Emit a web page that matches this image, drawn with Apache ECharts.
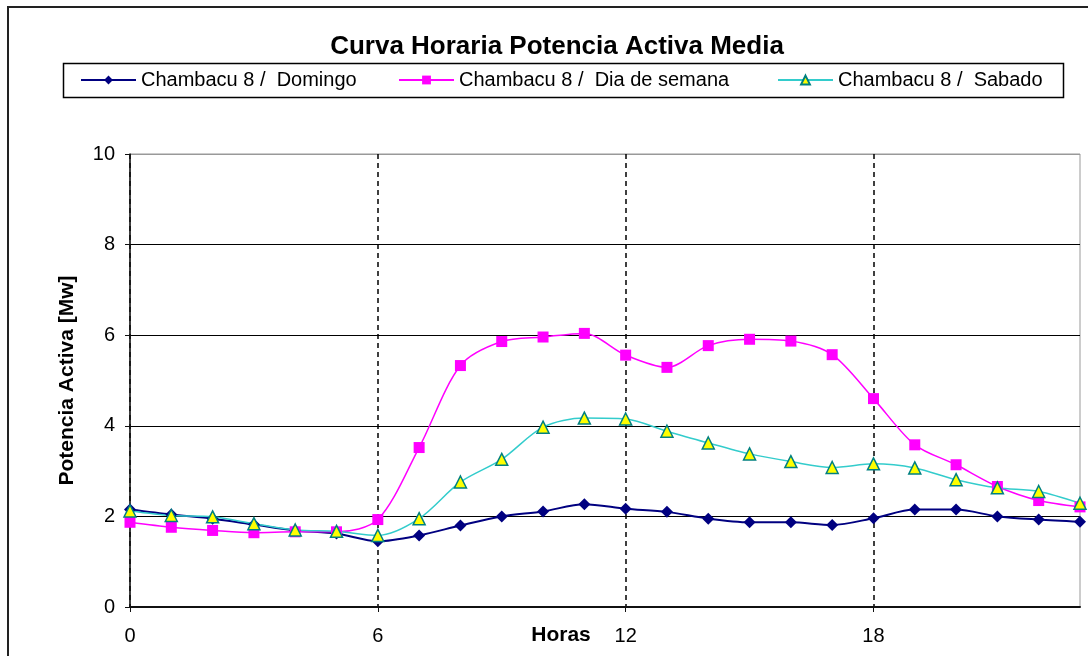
<!DOCTYPE html>
<html>
<head>
<meta charset="utf-8">
<script src="https://cdn.jsdelivr.net/npm/echarts@6/dist/echarts.min.js"></script>
<style>
html,body{margin:0;padding:0;background:#fff;}
#chart{width:1088px;height:656px;}
</style>
</head>
<body>
<div id="chart"></div>
<script>
const hours = [0,1,2,3,4,5,6,7,8,9,10,11,12,13,14,15,16,17,18,19,20,21,22,23];
const xTickLabels = [0,6,12,18];
const seriesNames = ['Chambacu 8 /  Domingo','Chambacu 8 /  Dia de semana','Chambacu 8 /  Sabado'];
const domingo = [2.15,2.04,1.95,1.82,1.69,1.62,1.45,1.58,1.80,2.00,2.11,2.27,2.17,2.10,1.95,1.87,1.87,1.81,1.96,2.15,2.15,2.00,1.93,1.88];
const diaSemana = [1.87,1.76,1.69,1.64,1.66,1.66,1.93,3.52,5.33,5.86,5.96,6.04,5.56,5.29,5.77,5.91,5.87,5.57,4.60,3.58,3.14,2.66,2.35,2.21];
const sabado = [2.12,2.02,1.99,1.84,1.70,1.67,1.58,1.95,2.76,3.26,3.97,4.17,4.15,3.88,3.62,3.38,3.21,3.08,3.16,3.07,2.81,2.63,2.55,2.29];

const pair = arr => hours.map((h,i)=>[h,arr[i]]);
const FONT = 'Liberation Sans, Arial, sans-serif';

const chart = echarts.init(document.getElementById('chart'));
const legendCommon = {
  top: 70, padding: 0, itemWidth: 55, itemHeight: 11,
  textStyle: {fontFamily: FONT, fontSize: 20, color: '#000'},
  selectedMode: false
};
chart.setOption({
  backgroundColor: '#fff',
  animation: false,
  title: {
    text: 'Curva Horaria Potencia Activa Media',
    left: 552, textAlign: 'center', top: 29,
    textStyle: {fontFamily: FONT, fontSize: 26, fontWeight: 'bold', color: '#000'}
  },
  graphic: [
    {type: 'rect', shape: {x: 8, y: 7, width: 1200, height: 800}, style: {fill: null, stroke: '#222', lineWidth: 2}, silent: true},
    {type: 'rect', shape: {x: 63.5, y: 63.5, width: 1000, height: 34}, style: {fill: null, stroke: '#000', lineWidth: 1.5}, silent: true}
  ],
  legend: [
    Object.assign({}, legendCommon, {left: 80, data: [seriesNames[0]]}),
    Object.assign({}, legendCommon, {left: 398, data: [seriesNames[1]]}),
    Object.assign({}, legendCommon, {left: 777, data: [seriesNames[2]]})
  ],
  grid: {left: 130, right: 8, top: 154, bottom: 49, show: true, borderColor: '#999', borderWidth: 1, backgroundColor: '#fff'},
  xAxis: {
    type: 'value', min: 0, max: 23, interval: 6,
    name: 'Horas', nameLocation: 'middle', nameGap: 18, nameMoveOverlap: false,
    nameTextStyle: {fontFamily: FONT, fontSize: 21, fontWeight: 'bold', color: '#000', padding: [0, 88, 0, 0]},
    axisLine: {lineStyle: {color: '#111', width: 2}},
    axisTick: {show: true, length: 5, lineStyle: {color: '#111'}, customValues: xTickLabels},
    axisLabel: {fontFamily: FONT, fontSize: 20, color: '#000', margin: 19,
      formatter: v => (xTickLabels.indexOf(v) >= 0 ? String(v) : '')},
    splitLine: {show: true, lineStyle: {color: '#000', type: [5, 4], width: 1.5}}
  },
  yAxis: {
    type: 'value', min: 0, max: 10, interval: 2,
    name: 'Potencia Activa [Mw]', nameLocation: 'middle', nameGap: 52, nameMoveOverlap: false,
    nameTextStyle: {fontFamily: FONT, fontSize: 21, fontWeight: 'bold', color: '#000'},
    axisLine: {show: true, lineStyle: {color: '#111', width: 1.5}},
    axisTick: {show: true, length: 5, lineStyle: {color: '#111'}},
    axisLabel: {fontFamily: FONT, fontSize: 20, color: '#000', margin: 15},
    splitLine: {show: true, lineStyle: {color: ['#000','#000','#000','#000','#000','#999'], width: 1.2}}
  },
  series: [
    {name: seriesNames[0], type: 'line', data: pair(domingo), smooth: 0.3,
     symbol: 'diamond', symbolSize: 12,
     lineStyle: {color: '#000080', width: 2}, itemStyle: {color: '#000080'}},
    {name: seriesNames[1], type: 'line', data: pair(diaSemana), smooth: 0.3,
     symbol: 'rect', symbolSize: 11,
     lineStyle: {color: '#FF00FF', width: 1.5}, itemStyle: {color: '#FF00FF'}},
    {name: seriesNames[2], type: 'line', data: pair(sabado), smooth: 0.3,
     symbol: 'triangle', symbolSize: 12,
     lineStyle: {color: '#33CCCC', width: 1.5}, itemStyle: {color: '#FFFF00', borderColor: '#008080', borderWidth: 1.5}}
  ]
});
</script>
</body>
</html>
